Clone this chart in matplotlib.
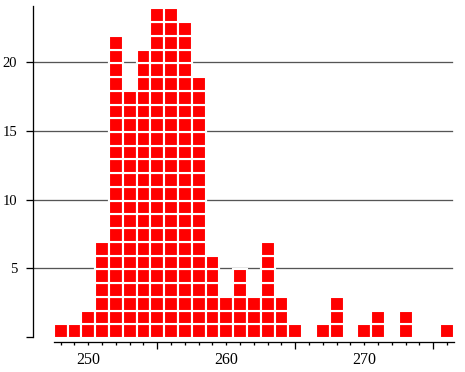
import matplotlib
matplotlib.use("Agg")
import matplotlib.pyplot as plt
from matplotlib.ticker import FixedLocator, FuncFormatter, NullFormatter
import numpy as np

# data: value -> count (unit histogram)
values = [248, 249, 250, 251, 252, 253, 254, 255, 256, 257, 258, 259, 260, 261,
          262, 263, 264, 265, 266, 267, 268, 269, 270, 271, 272, 273, 274, 275, 276]
counts = [1, 1, 2, 7, 22, 18, 21, 24, 24, 23, 19, 6, 3, 5,
          3, 7, 3, 1, 0, 1, 3, 0, 1, 2, 0, 2, 0, 0, 1]
y_ticks = [0, 5, 10, 15, 20]
x_labels = [250, 260, 270]

plt.rcParams['font.family'] = ['Liberation Serif', 'DejaVu Serif']

DPI = 100
fig = plt.figure(figsize=(4.65, 3.72), dpi=DPI)
ax = fig.add_axes([33/465, 35/372, (454-33)/465, (337-6)/372])

vals = np.array(values)
cnts = np.array(counts)
px = 72.0 / DPI
lw_px = 2.1
for k in range(cnts.max()):
    xs = vals[cnts > k]
    ax.bar(xs, 1, bottom=k - 0.075, width=1, color='#ff0000',
           edgecolor='white', linewidth=lw_px * px, zorder=3)

ax.set_xlim(246, 276.5)
ax.set_ylim(0, 24.1)

# grid
for y in y_ticks[1:]:
    ax.axhline(y, color='#555555', linewidth=1.3 * px, zorder=1, xmax=0.995)

for s in ['top', 'right']:
    ax.spines[s].set_visible(False)
ax.spines['left'].set_linewidth(1.3 * px)
ax.spines['bottom'].set_linewidth(1.3 * px)
ax.spines['bottom'].set_position(('outward', 5 * px))
ax.spines['bottom'].set_bounds(247.5, 276.5)

# y ticks
ax.yaxis.set_major_locator(FixedLocator(y_ticks))
ax.yaxis.set_major_formatter(FuncFormatter(lambda v, p: '' if v == 0 else f'{v:.0f}'))
ax.tick_params(axis='y', which='major', length=7 * px, width=1.3 * px,
               pad=9 * px, labelsize=10.5, colors='black')

# x ticks: long unlabeled at 255/265/275, short at every integer, labels at 250/260/270
ax.xaxis.set_major_locator(FixedLocator([255, 265, 275]))
ax.xaxis.set_major_formatter(NullFormatter())
ax.xaxis.set_minor_locator(FixedLocator(values))
ax.xaxis.set_minor_formatter(FuncFormatter(
    lambda v, p: f'{v:.0f}' if int(round(v)) in x_labels else ''))
ax.tick_params(axis='x', which='major', length=6.7 * px, width=1.3 * px)
ax.tick_params(axis='x', which='minor', length=3.4 * px, width=1.3 * px,
               pad=7 * px, labelsize=11.5, colors='black')

fig.savefig('out.png', dpi=DPI)
